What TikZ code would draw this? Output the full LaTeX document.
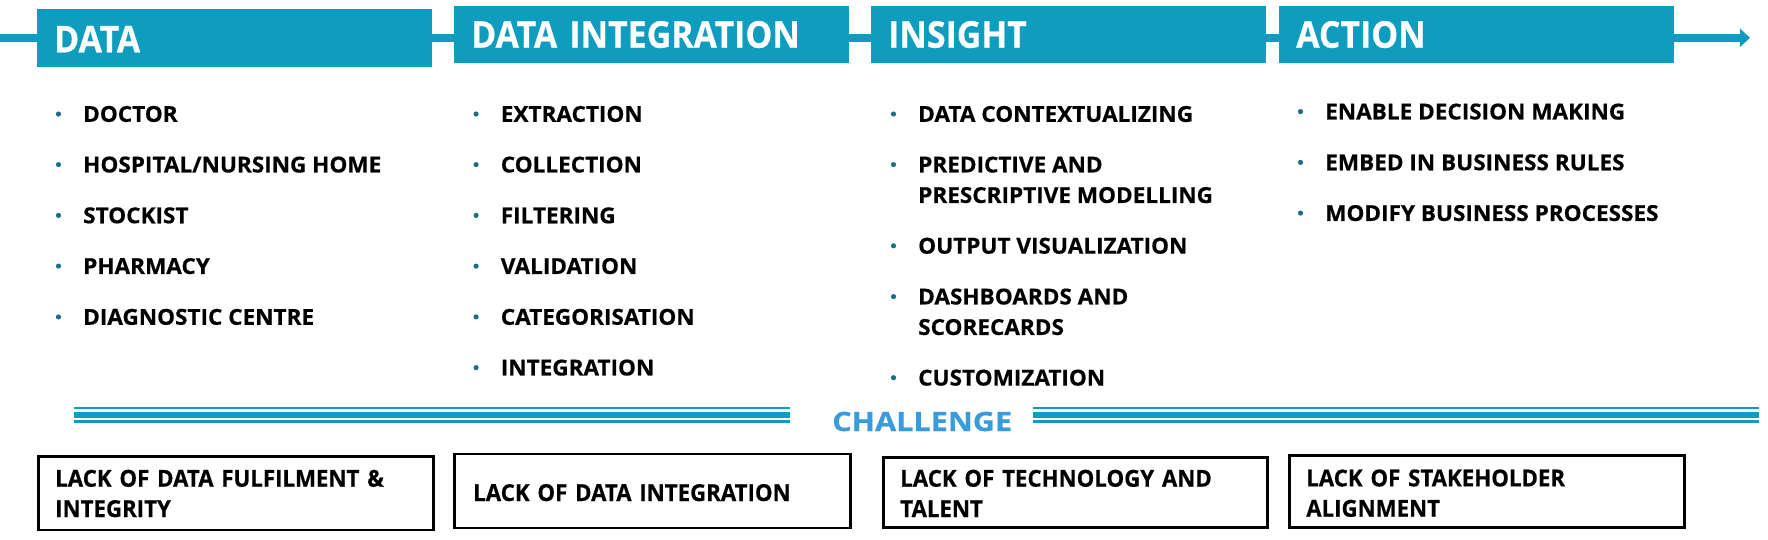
\documentclass[tikz,border=0pt]{standalone}
\usepackage{fontspec}
\setmainfont{Open Sans}
\usetikzlibrary{arrows.meta}
\definecolor{tealA}{HTML}{0E9DBE}
\definecolor{bullc}{HTML}{1B6F84}
\definecolor{chblue}{HTML}{3A9BDC}
\newcommand\twoline[2]{\vtop{\hbox{#1}\hbox{#2}}}
\newcommand\myitem[4]{%
  \node[itemtext] (#1) at (#2,#3+7.85) {#4};
  \fill[bullc] ([shift={(-24.5,-7.85)}]#1.base west) circle[radius=2.6];}
\begin{document}
\begin{tikzpicture}[x=1pt,y=-1pt,
  hdr/.style={anchor=base west, fill=tealA, text=white, inner xsep=17pt, inner ysep=0pt,
    text width=361pt, align=left,
    font=\fontsize{36.8}{44}\selectfont\bfseries\addfontfeatures{FakeStretch=0.92,FakeBold=0.5}},
  itemtext/.style={anchor=base west, inner sep=0pt, text=black,
    font=\fontsize{22}{30.5}\selectfont\bfseries\addfontfeatures{FakeStretch=1.025,FakeBold=0.5}},
  cbox/.style={anchor=base west, draw=black, line width=2.5pt, inner ysep=0pt,
    align=left, text=black,
    font=\fontsize{23.4}{30.3}\selectfont\bfseries\addfontfeatures{FakeStretch=0.95,FakeBold=0.5}},
  topline/.style={draw=tealA, line width=8.5pt},
  chline/.style={draw=tealA}
]
\useasboundingbox (0,0) rectangle (1768,539);

% top flow line
\coordinate (start) at (0,37.8);
\coordinate (end) at (1750,37.8);

% headers
\node[hdr, text height=43.3pt, text depth=14.7pt] (data) at (37,52.3) {DATA};
\node[hdr, text height=42pt, text depth=15pt] (di) at (454,47.7) {DATA INTEGRATION};
\node[hdr, text height=42pt, text depth=15pt] (insight) at (871,47.7) {INSIGHT};
\node[hdr, text height=42pt, text depth=15pt] (action) at (1279,47.7) {ACTION};

\draw[topline] (start) -- (data.west |- start);
\draw[topline] (data.east |- start) -- (di.west |- start);
\draw[topline] (di.east |- start) -- (insight.west |- start);
\draw[topline] (insight.east |- start) -- (action.west |- start);
\draw[topline, -{Triangle[length=10pt,width=18pt]}] (action.east |- start) -- (end);

% column 1
\myitem{a1}{83}{114}{DOCTOR}
\myitem{a2}{83}{164.6}{HOSPITAL/NURSING HOME}
\myitem{a3}{83}{215.4}{STOCKIST}
\myitem{a4}{83}{266.1}{PHARMACY}
\myitem{a5}{83}{316.9}{DIAGNOSTIC CENTRE}
% column 2
\myitem{b1}{500.6}{114}{EXTRACTION}
\myitem{b2}{500.6}{164.6}{COLLECTION}
\myitem{b3}{500.6}{215.4}{FILTERING}
\myitem{b4}{500.6}{266.1}{VALIDATION}
\myitem{b5}{500.6}{316.9}{CATEGORISATION}
\myitem{b6}{500.6}{367.6}{INTEGRATION}
% column 3
\myitem{c1}{918}{114}{DATA CONTEXTUALIZING}
\myitem{c2}{918}{164.6}{\twoline{PREDICTIVE AND}{PRESCRIPTIVE MODELLING}}
\myitem{c3}{918}{245.8}{OUTPUT VISUALIZATION}
\myitem{c4}{918}{296.6}{\twoline{DASHBOARDS AND}{SCORECARDS}}
\myitem{c5}{918}{377.7}{CUSTOMIZATION}
% column 4
\myitem{d1}{1325}{111.6}{ENABLE DECISION MAKING}
\myitem{d2}{1325}{162.4}{EMBED IN BUSINESS RULES}
\myitem{d3}{1325}{213.1}{MODIFY BUSINESS PROCESSES}

% challenge
\node[anchor=base west, inner sep=0pt, text=chblue,
  font=\fontsize{26.6}{30}\selectfont\bfseries\addfontfeatures{FakeStretch=1.15,FakeBold=0.5}] (chal) at (832,431) {CHALLENGE};
\draw[chline, line width=2pt] (74,408.3) -- (790,408.3);
\draw[chline, line width=6pt] (74,415) -- (790,415);
\draw[chline, line width=2.5pt] (74,421.5) -- (790,421.5);
\draw[chline, line width=2pt] (1033,408.3) -- (1759,408.3);
\draw[chline, line width=6pt] (1033,415) -- (1759,415);
\draw[chline, line width=2.5pt] (1033,421.5) -- (1759,421.5);

% challenge boxes
\node[cbox, inner xsep=17pt, text width=361pt, text height=30pt, text depth=43.3pt] (k1) at (37,486.7) {LACK OF DATA FULFILMENT \&\\INTEGRITY};
\node[cbox, inner xsep=19pt, text width=358pt, text height=47pt, text depth=27pt] (k2) at (453,501) {LACK OF DATA INTEGRATION};
\node[cbox, inner xsep=17pt, text width=350pt, text height=29pt, text depth=41pt] (k3) at (882,486.7) {LACK OF TECHNOLOGY AND\\TALENT};
\node[cbox, inner xsep=17pt, text width=361pt, text height=30.7pt, text depth=41.3pt] (k4) at (1288,486.4) {LACK OF STAKEHOLDER\\ALIGNMENT};
\end{tikzpicture}
\end{document}
